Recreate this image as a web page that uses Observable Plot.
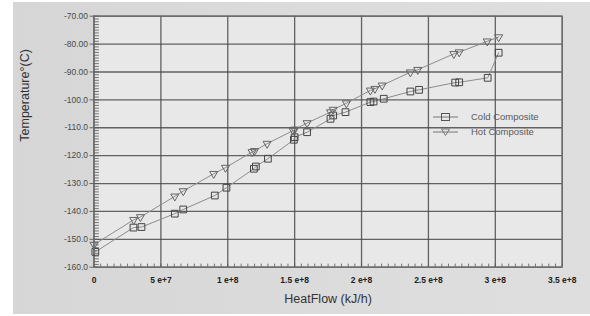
<!DOCTYPE html>
<html>
<head>
<meta charset="utf-8">
<script src="https://cdn.jsdelivr.net/npm/d3@7"></script>
<script src="https://cdn.jsdelivr.net/npm/@observablehq/plot@0.6"></script>
<style>
  html, body { margin: 0; padding: 0; background: #ffffff; }
  #wrap { position: relative; width: 590px; height: 316px; overflow: hidden; }
  #bg { position: absolute; left: 13px; top: 2px; width: 577px; height: 312px;
        background: linear-gradient(90deg, #d6d6d6 0%, #dcdcdc 60%, #dedede 100%); }
  #chart { position: absolute; left: 0; top: 0; }
  #legend { position: absolute; left: 433px; top: 109px; font-family: "Liberation Sans", Arial, sans-serif;
            font-size: 9.5px; color: #5a5a5a; line-height: 15px; }
  #legend .row { display: flex; align-items: center; height: 15px; }
  #legend svg { margin-right: 13px; }
</style>
</head>
<body>
<div id="wrap">
  <div id="bg"></div>
  <div id="chart"></div>
  <div id="legend"></div>
</div>
<script>
// ---- data (HeatFlow in kJ/h, Temperature in °C) ----
const coldHeat = [0.01e8, 0.295e8, 0.355e8, 0.604e8, 0.667e8, 0.903e8, 0.99e8, 1.195e8, 1.21e8, 1.30e8,
                  1.494e8, 1.50e8, 1.593e8, 1.768e8, 1.788e8, 1.88e8, 2.066e8, 2.09e8, 2.166e8, 2.365e8,
                  2.43e8, 2.70e8, 2.73e8, 2.943e8, 3.025e8];
const coldTemp = [-154.5, -145.8, -145.6, -140.8, -139.3, -134.3, -131.5, -124.7, -123.9, -121.1,
                  -114.3, -113.4, -111.6, -106.8, -105.6, -104.4, -100.8, -100.6, -99.6, -97.0,
                  -96.4, -93.8, -93.7, -92.1, -83.1];
const hotHeat  = [0.0, 0.297e8, 0.347e8, 0.604e8, 0.667e8, 0.895e8, 0.983e8, 1.182e8, 1.20e8, 1.294e8,
                  1.489e8, 1.50e8, 1.593e8, 1.768e8, 1.788e8, 1.887e8, 2.066e8, 2.10e8, 2.154e8, 2.365e8,
                  2.42e8, 2.69e8, 2.73e8, 2.94e8, 3.025e8];
const hotTemp  = [-151.9, -143.0, -142.0, -134.6, -132.7, -126.5, -124.3, -118.7, -118.3, -115.7,
                  -111.0, -110.6, -108.3, -104.4, -103.5, -101.2, -96.6, -96.0, -94.8, -90.1,
                  -89.2, -83.5, -82.9, -79.0, -77.5];
const seriesNames = ["Cold Composite", "Hot Composite"];

const xTicks = [0, 5e7, 1e8, 1.5e8, 2e8, 2.5e8, 3e8, 3.5e8];
const xTickLabels = ["0", "5 e+7", "1 e+8", "1.5 e+8", "2 e+8", "2.5 e+8", "3 e+8", "3.5 e+8"];
const yTicks = [-160, -150, -140, -130, -120, -110, -100, -90, -80, -70];
const yTickLabels = ["-160.0", "-150.0", "-140.0", "-130.0", "-120.0", "-110.0", "-100.0", "-90.00", "-80.00", "-70.00"];
const xMinor = d3.range(0, 3.5e8 + 1, 5e6);
const yMinor = d3.range(-160, -69.5, 1);

const xTitle = "HeatFlow (kJ/h)";
const yTitle = "Temperature°(C)";

// ---- build ----
const cold = coldHeat.map((x, i) => ({x, y: coldTemp[i]}));
const hot = hotHeat.map((x, i) => ({x, y: hotTemp[i]}));
const xLab = new Map(xTicks.map((v, i) => [v, xTickLabels[i]]));
const yLab = new Map(yTicks.map((v, i) => [v, yTickLabels[i]]));
const font = "'Liberation Sans', Arial, sans-serif";

const chart = Plot.plot({
  width: 590,
  height: 316,
  marginLeft: 93.5,
  marginRight: 28.3,
  marginTop: 15.7,
  marginBottom: 49.3,
  style: {background: "transparent", fontFamily: font, overflow: "visible"},
  x: {domain: [0, 3.5e8]},
  y: {domain: [-160, -70]},
  marks: [
    Plot.frame({fill: "#e8e8e8", stroke: null}),
    Plot.gridX(xTicks, {stroke: "#4a4a4a", strokeOpacity: 0.85, strokeWidth: 1.3}),
    Plot.gridY(yTicks, {stroke: "#4a4a4a", strokeOpacity: 0.85, strokeWidth: 1.3}),
    Plot.ruleX(xMinor, {x: d => d, y1: -160, y2: -158.9, stroke: "#555", strokeWidth: 0.8}),
    Plot.ruleY(yMinor, {y: d => d, x1: 0, x2: 0.04e8, stroke: "#555", strokeWidth: 0.8}),
    Plot.frame({stroke: "#6a6a6a", strokeWidth: 1.2}),
    Plot.axisX(xTicks, {tickFormat: d => xLab.get(d), tickSize: 0, tickPadding: 10,
      fontSize: 8.5, fontWeight: "bold", fill: "#222", label: null}),
    Plot.axisY(yTicks, {tickFormat: d => yLab.get(d), tickSize: 4, tickPadding: 2,
      fontSize: 8.5, fill: "#4a4a4a", stroke: "#666", label: null}),
    Plot.text([xTitle], {text: d => d, frameAnchor: "bottom", dy: 36, fontSize: 12.5, fill: "#333"}),
    Plot.text([yTitle], {text: d => d, frameAnchor: "left", rotate: -90, dx: -69, fontSize: 12.5, fill: "#333"}),
    Plot.line(cold, {x: "x", y: "y", stroke: "#8c8c8c", strokeWidth: 1}),
    Plot.line(hot, {x: "x", y: "y", stroke: "#8c8c8c", strokeWidth: 1}),
    Plot.dot(cold, {x: "x", y: "y", symbol: "square", r: 3.8, stroke: "#444", strokeWidth: 1, fill: "none"}),
    Plot.dot(hot, {x: "x", y: "y", symbol: "triangle", rotate: 180, r: 3, stroke: "#666", strokeWidth: 1, fill: "none"})
  ]
});
document.getElementById("chart").append(chart);

// ---- legend ----
const legend = document.getElementById("legend");
const legendSymbols = [
  '<rect x="8.5" y="3.5" width="8" height="7" fill="none" stroke="#555"/>',
  '<path d="M8.5,4 L16.5,4 L12.5,10.5 Z" fill="none" stroke="#777"/>'
];
seriesNames.forEach((name, i) => {
  const row = document.createElement("div");
  row.className = "row";
  row.innerHTML = `<svg width="25" height="14"><line x1="0" y1="7" x2="25" y2="7" stroke="#777"/>${legendSymbols[i]}</svg><span>${name}</span>`;
  legend.append(row);
});
</script>
</body>
</html>
